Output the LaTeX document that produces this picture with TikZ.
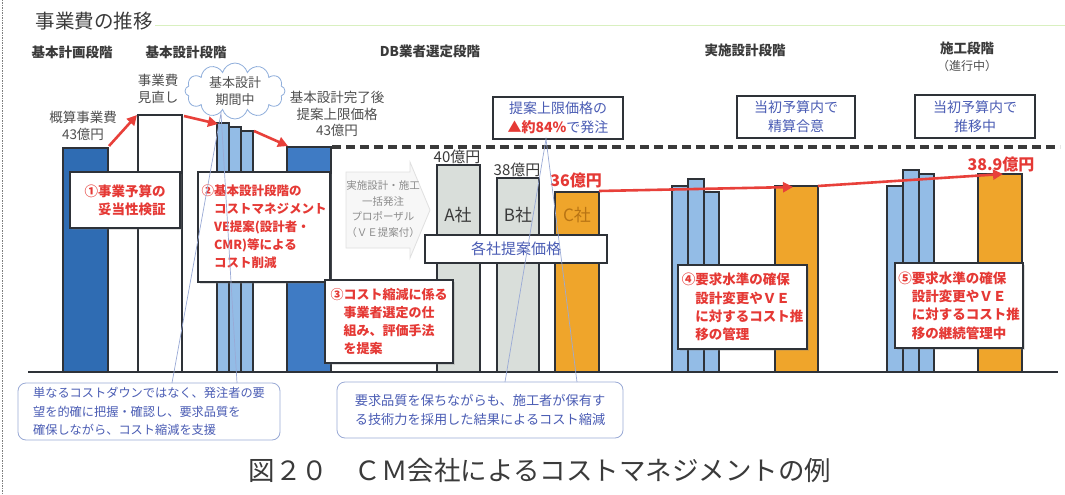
\documentclass[tikz,border=0pt]{standalone}
\usepackage{fontspec}
\setmainfont{Noto Sans CJK JP}
\usetikzlibrary{arrows.meta,shapes.symbols,shadows}
\definecolor{outl}{HTML}{2E3238}
\definecolor{bardark}{HTML}{2F6CB3}
\definecolor{barmid}{HTML}{3F7BC4}
\definecolor{barlight}{HTML}{93BCE6}
\definecolor{bargrey}{HTML}{D9DEDA}
\definecolor{barorange}{HTML}{EFA52B}
\definecolor{arrred}{HTML}{E8403A}
\definecolor{txtred}{HTML}{E53935}
\definecolor{txtblue}{HTML}{4A5CB4}
\definecolor{callb}{HTML}{9AAAD6}
\definecolor{cloudc}{HTML}{8FAEDB}
\definecolor{darktxt}{HTML}{3A3A3A}
\definecolor{greytxt}{HTML}{4F4F4F}
\definecolor{lightgreytxt}{HTML}{8C8C8C}
\definecolor{ctxt}{HTML}{B87414}
\newcommand\myfs[2]{\fontsize{#1}{#2}\selectfont}
\begin{document}
\begin{tikzpicture}[x=1pt,y=-1pt,
  barline/.style={draw=outl,line width=1.5pt},
  thinbar/.style={draw=outl,line width=1.2pt,fill=barlight},
  redarrow/.style={draw=arrred,line width=2.6pt,-{Triangle[length=10pt,width=10pt]}},
  rbox/.style={draw=outl,line width=1.6pt,fill=white,text=txtred,align=left,inner sep=0pt,
    font=\myfs{13}{18}\bfseries,drop shadow={shadow xshift=2pt,shadow yshift=-2pt,opacity=0.25}},
  bbox/.style={draw=outl,line width=1.6pt,fill=white,text=txtblue,align=center,inner sep=0pt,
    font=\myfs{14}{19}},
  callout/.style={draw=callb,line width=0.8pt,fill=white,rounded corners=8pt,text=txtblue,
    align=left,inner sep=0pt},
  wedge/.style={draw=callb,line width=0.7pt},
  phase/.style={text=darktxt,font=\myfs{13.5}{16}\bfseries},
  lbl/.style={text=greytxt,align=center,font=\myfs{13.5}{17}},
  val/.style={text=darktxt,font=\myfs{15}{17}},
  redval/.style={text=txtred,font=\myfs{16}{18}\bfseries},
  dashline/.style={draw=darktxt,line width=3.8pt,dash pattern=on 9pt off 5pt},
]
\useasboundingbox (0,0) rectangle (1065,495);
\fill[white] (0,0) rectangle (1065,495);

% left border and title rule
\draw[draw=gray,line width=0.8pt,dash pattern=on 1.5pt off 1pt] (2,0) -- (2,495);
\draw[draw=yellow!40!green!25,line width=1pt] (155,26) -- (1065,26);

% title
\node[text=darktxt,font=\myfs{19.5}{22}] (title) at (94,21) {事業費の推移};

% phase labels
\node[phase] (ph1) at (72,52) {基本計画段階};
\node[phase] (ph2) at (186,52) {基本設計段階};
\node[phase] (ph3) at (430,51) {DB業者選定段階};
\node[phase] (ph4) at (745,50) {実施設計段階};
\node[phase] (ph5) at (967,48) {施工段階};
\node[text=greytxt,font=\myfs{12}{14}] (ph5b) at (967,66) {（進行中）};

% dashed upper-limit line
\coordinate (dashL) at (332,147);
\coordinate (dashR) at (1060,147);
\draw[dashline] (dashL) -- (dashR);

% faint proposal arrow
\filldraw[draw=black!12,fill=black!3,line width=0.8pt]
  (346,172) -- (410,172) -- (410,162) -- (430,210) -- (410,258) -- (410,248) -- (346,248) -- cycle;
\node[text=lightgreytxt,align=center,font=\myfs{10.5}{15.5}] (prop) at (383,209)
  {実施設計・施工\\一括発注\\プロポーザル\\（ＶＥ提案付）};

% bars
\filldraw[barline,fill=bardark] (63,148) rectangle (108,372);
\filldraw[barline,fill=white] (138,115) rectangle (182,372);
\filldraw[thinbar] (217,123) rectangle (229,372);
\filldraw[thinbar] (229,127) rectangle (241,372);
\filldraw[thinbar] (241,131) rectangle (253,372);
\filldraw[barline,fill=barmid] (287,147) rectangle (331,372);
\filldraw[barline,fill=bargrey] (437,165) rectangle (480,372);
\filldraw[barline,fill=bargrey] (497,178) rectangle (539,372);
\filldraw[barline,fill=barorange] (555,192) rectangle (599,372);
\filldraw[thinbar] (672,186) rectangle (688,372);
\filldraw[thinbar] (688,179) rectangle (704,372);
\filldraw[thinbar] (704,192) rectangle (719,372);
\filldraw[barline,fill=barorange] (775,186) rectangle (818,372);
\filldraw[thinbar] (887,186) rectangle (903,372);
\filldraw[thinbar] (903,170) rectangle (919,372);
\filldraw[thinbar] (919,174) rectangle (934,372);
\filldraw[barline,fill=barorange] (978,174) rectangle (1022,372);

% baseline
\coordinate (baseL) at (28,372);
\coordinate (baseR) at (1058,372);
\draw[draw=outl,line width=1.6pt] (baseL) -- (baseR);

% bar labels
\node[text=darktxt,font=\myfs{17}{19}] (aco) at (458,215) {A社};
\node[text=darktxt,font=\myfs{17}{19}] (bco) at (518,215) {B社};
\node[text=ctxt,font=\myfs{17}{19}] (cco) at (577,215) {C社};

% value labels
\node[lbl] (t1) at (83,126) {概算事業費\\43億円};
\node[lbl] (t2) at (158,89) {事業費\\見直し};
\node[lbl,font=\myfs{13.5}{16.5}] (t3) at (337,114) {基本設計完了後\\提案上限価格\\43億円};
\node[val] (v40) at (457,157) {40億円};
\node[val] (v38) at (517,170) {38億円};
\node[redval] (v36) at (576,180) {36億円};
\node[redval] (v389) at (1001,164) {38.9億円};

% cloud
\node[cloud,cloud puffs=12,aspect=2,draw=cloudc,fill=white,line width=0.8pt,inner sep=0pt,
  minimum width=100pt,minimum height=52pt,text=greytxt,align=center,font=\myfs{13}{17}]
  (cloud) at (235,91) {基本設計\\期間中};

% red arrows
\coordinate (a1s) at (109,146);
\coordinate (a1e) at (137,115);
\coordinate (a2s) at (184,116);
\coordinate (a2e) at (218,124);
\coordinate (a3s) at (254,131);
\coordinate (a3e) at (288,146);
\coordinate (a4s) at (599,191);
\coordinate (a4e) at (793,187);
\coordinate (a5s) at (818,186);
\coordinate (a5e) at (1003,174);
\draw[redarrow] (a1s) -- (a1e);
\draw[redarrow] (a2s) -- (a2e);
\draw[redarrow] (a3s) -- (a3e);
\draw[redarrow] (a4s) -- (a4e);
\draw[redarrow] (a5s) -- (a5e);

% blue boxes
\node[bbox,minimum width=130pt,minimum height=42pt] (cap) at (558,118)
  {提案上限価格の\\{\color{txtred}\bfseries ▲約84\%}で発注};
\node[bbox,minimum width=118pt,minimum height=42pt] (bx6) at (796,117)
  {当初予算内で\\精算合意};
\node[bbox,minimum width=120pt,minimum height=43pt] (bx7) at (975,116.5)
  {当初予算内で\\推移中};
\node[bbox,minimum width=182pt,minimum height=28pt,font=\myfs{15}{18}] (kaku) at (516,249)
  {各社提案価格};

% red boxes
\node[rbox,minimum width=110pt,minimum height=56pt,font=\myfs{13.5}{18}\bfseries] (bx1) at (125,200)
  {①事業予算の\\\phantom{①}妥当性検証};
\node[rbox,minimum width=132pt,minimum height=110pt,font=\myfs{12.5}{18}\bfseries] (bx2) at (264,227)
  {②基本設計段階の\\\phantom{②}コストマネジメント\\\phantom{②}VE提案(設計者・\\\phantom{②}CMR)等による\\\phantom{②}コスト削減};
\node[rbox,minimum width=128pt,minimum height=83pt] (bx3) at (389,321.5)
  {③コスト縮減に係る\\\phantom{③}事業者選定の仕\\\phantom{③}組み、評価手法\\\phantom{③}を提案};
\node[rbox,minimum width=129pt,minimum height=84pt,font=\myfs{13.5}{18.3}\bfseries] (bx4) at (742.5,307)
  {④要求水準の確保\\\phantom{④}設計変更やＶＥ\\\phantom{④}に対するコスト推\\\phantom{④}移の管理};
\node[rbox,minimum width=128pt,minimum height=85pt,font=\myfs{13.5}{18.3}\bfseries] (bx5) at (959,305.5)
  {⑤要求水準の確保\\\phantom{⑤}設計変更やＶＥ\\\phantom{⑤}に対するコスト推\\\phantom{⑤}移の継続管理中};

% bottom callouts
\node[callout,minimum width=262pt,minimum height=57pt,font=\myfs{12.2}{18.5}] (lcall) at (149,411.5)
  {単なるコストダウンではなく、発注者の要\\望を的確に把握・確認し、要求品質を\\確保しながら、コスト縮減を支援};
\node[callout,minimum width=286pt,minimum height=56pt,font=\myfs{13.2}{19}] (mcall) at (480,410)
  {要求品質を保ちながらも、施工者が保有す\\る技術力を採用した結果によるコスト縮減};

% callout wedges
\coordinate (lw1) at (172,383);
\coordinate (lw2) at (237,383);
\coordinate (lwa) at (221,113);
\coordinate (mw1) at (505,382);
\coordinate (mw2) at (577,382);
\coordinate (mwa) at (546,139);
\draw[wedge] (lw1) -- (lwa) -- (lw2);
\draw[wedge] (mw1) -- (mwa) -- (mw2);

% caption
\node[text=darktxt,font=\myfs{26.5}{29}] (caption) at (540,470)
  {図２０　ＣＭ会社によるコストマネジメントの例};
\end{tikzpicture}
\end{document}
